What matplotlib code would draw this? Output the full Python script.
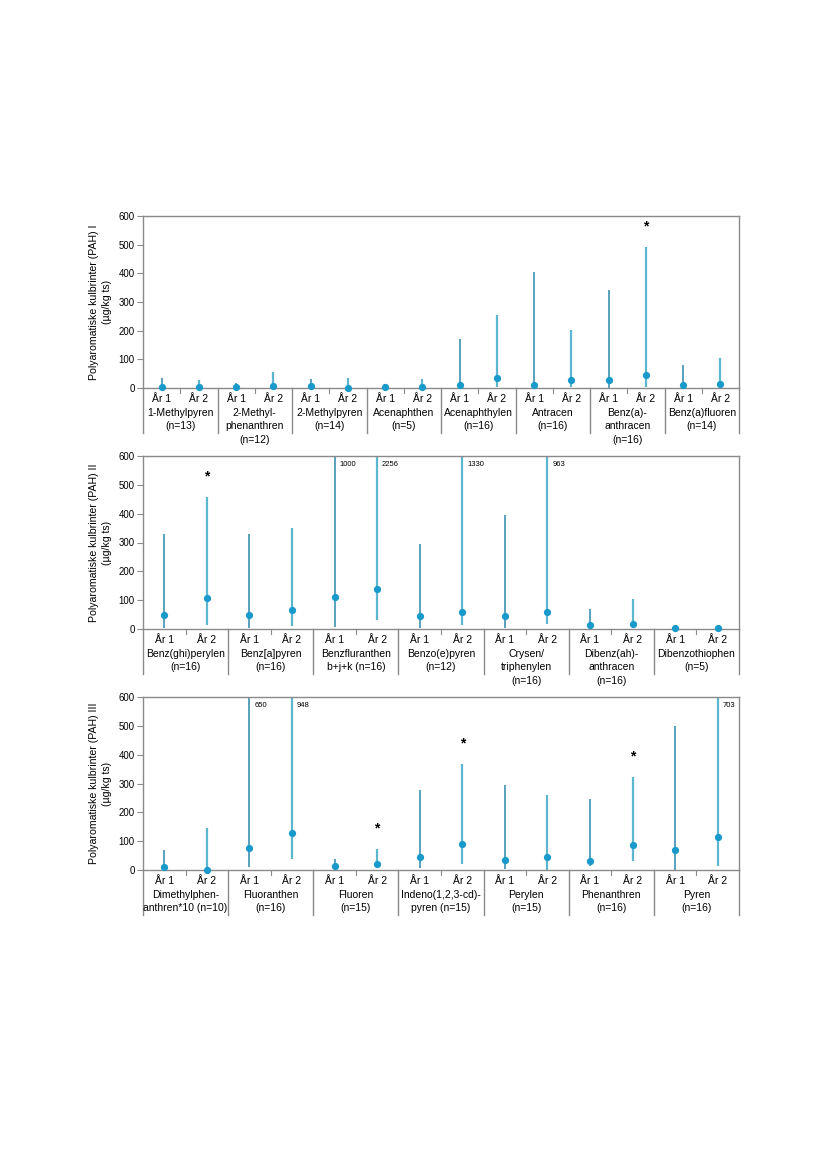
import matplotlib
matplotlib.use("Agg")
import matplotlib.pyplot as plt
import matplotlib.transforms as mtransforms

plt.rcParams['font.family'] = ['Liberation Sans', 'DejaVu Sans']

# ---------------- data ----------------
p1_names = ["1-Methylpyren\n(n=13)", "2-Methyl-\nphenanthren\n(n=12)", "2-Methylpyren\n(n=14)",
            "Acenaphthen\n(n=5)", "Acenaphthylen\n(n=16)", "Antracen\n(n=16)",
            "Benz(a)-\nanthracen\n(n=16)", "Benz(a)fluoren\n(n=14)"]
p1_min1 = [1, 1, 1, 1, 1, 1, 1, 1]
p1_med1 = [5, 5, 6, 3, 12, 12, 29, 12]
p1_max1 = [34, 16, 31, 13, 170, 406, 341, 80]
p1_min2 = [1, 1, 1, 1, 2, 2, 3, 2]
p1_med2 = [5, 6, 0, 5, 34, 28, 45, 14]
p1_max2 = [28, 57, 36, 33, 255, 201, 492, 103]
p1_star = [None, None, None, None, None, None, 2, None]

p2_names = ["Benz(ghi)perylen\n(n=16)", "Benz[a]pyren\n(n=16)", "Benzfluranthen\nb+j+k (n=16)",
            "Benzo(e)pyren\n(n=12)", "Crysen/\ntriphenylen\n(n=16)", "Dibenz(ah)-\nanthracen\n(n=16)",
            "Dibenzothiophen\n(n=5)"]
p2_min1 = [3, 3, 8, 3, 3, 2, 2]
p2_med1 = [47, 49, 112, 45, 46, 14, 3]
p2_max1 = [329, 329, 1000, 295, 394, 70, 3]
p2_min2 = [14, 10, 32, 14, 17, 5, 2]
p2_med2 = [106, 67, 138, 60, 59, 16, 3]
p2_max2 = [458, 351, 2256, 1330, 963, 104, 3]
p2_star = [2, None, None, None, None, None, None]

p3_names = ["Dimethylphen-\nanthren*10 (n=10)", "Fluoranthen\n(n=16)", "Fluoren\n(n=15)",
            "Indeno(1,2,3-cd)-\npyren (n=15)", "Perylen\n(n=15)", "Phenanthren\n(n=16)",
            "Pyren\n(n=16)"]
p3_min1 = [0, 9, 0, 7, 5, 13, 0]
p3_med1 = [9, 77, 13, 44, 35, 32, 69]
p3_max1 = [68, 650, 39, 276, 296, 246, 500]
p3_min2 = [0, 39, 7, 21, 0, 30, 13]
p3_med2 = [1, 128, 22, 90, 45, 87, 114]
p3_max2 = [144, 948, 72, 368, 261, 323, 703]
p3_star = [None, None, 2, 2, None, 2, None]

yticks = [0, 100, 200, 300, 400, 500, 600]
year_labels = ["År 1", "År 2"]
ylabels = ["Polyaromatiske kulbrinter (PAH) I\n(µg/kg ts)",
           "Polyaromatiske kulbrinter (PAH) II\n(µg/kg ts)",
           "Polyaromatiske kulbrinter (PAH) III\n(µg/kg ts)"]

panels = [
    (p1_names, p1_min1, p1_med1, p1_max1, p1_min2, p1_med2, p1_max2, p1_star),
    (p2_names, p2_min1, p2_med1, p2_max1, p2_min2, p2_med2, p2_max2, p2_star),
    (p3_names, p3_min1, p3_med1, p3_max1, p3_min2, p3_med2, p3_max2, p3_star),
]

# ---------------- style ----------------
W, H = 826, 1169
fig = plt.figure(figsize=(W / 100, H / 100), dpi=100)
gray = '#8a8a8a'
c_line1 = '#2b88ad'
c_line2 = '#5cb6cf'
c_dot = '#1a9acb'
YMAX = 600

# panel geometry in pixels (left, right, top, bottom)
geo = [(143, 739, 216, 388), (143, 739, 456, 629), (143, 739, 697, 870)]
cat_depth = 45  # px below baseline for separators

for pi, (panel, (l, r, t, b)) in enumerate(zip(panels, geo)):
    names, mn1, md1, mx1, mn2, md2, mx2, star = panel
    ax = fig.add_axes([l / W, 1 - b / H, (r - l) / W, (b - t) / H])
    n = len(names)
    ax.set_xlim(0, n)
    ax.set_ylim(0, YMAX)
    for s in ax.spines.values():
        s.set_color(gray)
        s.set_linewidth(1.0)
    ax.set_yticks(yticks)
    ax.set_yticklabels([str(v) for v in yticks], fontsize=6.9)
    ax.tick_params(axis='y', length=4, width=0.8, color=gray, pad=2)
    ax.set_xticks([])
    ax.set_ylabel(ylabels[pi], fontsize=7.6, labelpad=5, linespacing=1.3)

    trans = mtransforms.blended_transform_factory(ax.transData, ax.transAxes)
    hpx = b - t
    dep = cat_depth / hpx

    # separators, left and right extension
    for k in range(n + 1):
        ax.plot([k, k], [0, -dep], transform=trans, color=gray, lw=1.0, clip_on=False)
    for k in range(n):
        ax.plot([k + 0.5, k + 0.5], [0, -5 / hpx], transform=trans, color=gray, lw=0.8,
                clip_on=False)
        for j in range(2):
            ax.text(k + 0.25 + 0.5 * j, -6 / hpx, year_labels[j], transform=trans,
                    ha='center', va='top', fontsize=7.5)
        ax.text(k + 0.5, -20 / hpx, names[k], transform=trans, ha='center', va='top',
                fontsize=7.5, linespacing=1.42)

    for j, (mn, md, mx, col, lw) in enumerate([(mn1, md1, mx1, c_line1, 1.1),
                                                (mn2, md2, mx2, c_line2, 1.6)]):
        xs = [k + 0.25 + 0.5 * j for k in range(n)]
        ax.vlines(xs, mn, [min(v, YMAX) for v in mx], color=col, lw=lw, zorder=2)
        ax.plot(xs, md, 'o', color=c_dot, ms=4.2, zorder=3, clip_on=False)
        for x, v in zip(xs, mx):
            if v > YMAX:
                ax.annotate(str(v), (x, YMAX), xytext=(3.5, -3.5), textcoords='offset points',
                            ha='left', va='top', fontsize=5.5)
    for k, s in enumerate(star):
        if s:
            x = k + 0.25 + 0.5 * (s - 1)
            top = (mx1 if s == 1 else mx2)[k]
            ax.annotate('*', (x, top), xytext=(0, 15), textcoords='offset points',
                        ha='center', va='center', fontsize=10, fontweight='bold')

fig.savefig('out.png', dpi=100)
